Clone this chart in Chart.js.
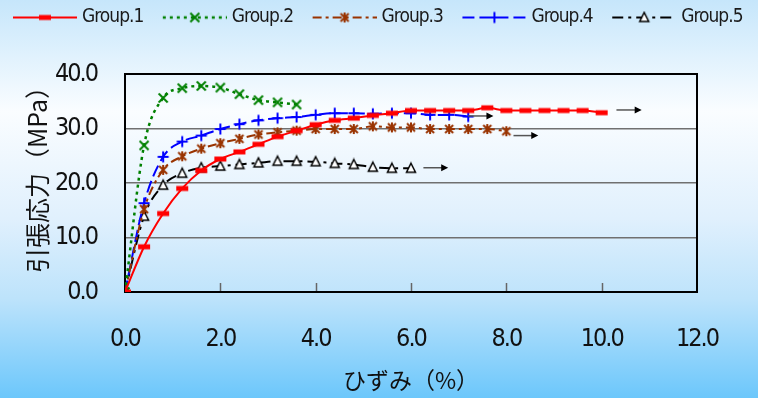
<!DOCTYPE html>
<html>
<head>
<meta charset="utf-8">
<script src="https://cdn.jsdelivr.net/npm/chart.js@4"></script>
<style>
  html, body { margin: 0; padding: 0; }
  canvas { display: block; }
</style>
</head>
<body>
<canvas id="stressChart" width="758" height="398"></canvas>
<script>
// strain (%) at each measuring step, shared by all groups
const strain = [0.0, 0.4, 0.8, 1.2, 1.6, 2.0, 2.4, 2.8, 3.2, 3.6, 4.0, 4.4, 4.8,
                5.2, 5.6, 6.0, 6.4, 6.8, 7.2, 7.6, 8.0, 8.4, 8.8, 9.2, 9.6, 10.0];

// tensile stress (MPa)
const group1 = [0, 8.3, 14.4, 19.0, 22.3, 24.4, 25.7, 27.1, 28.5, 29.6, 30.7, 31.5, 31.9,
                32.4, 32.8, 33.3, 33.3, 33.3, 33.3, 33.8, 33.3, 33.3, 33.3, 33.3, 33.3, 32.9];
const group2 = [0, 26.9, 35.6, 37.4, 37.8, 37.5, 36.3, 35.2, 34.8, 34.4];
const group3 = [0, 15.2, 22.4, 24.9, 26.3, 27.3, 28.1, 28.9, 29.3, 29.6, 29.9, 29.9, 29.9,
                30.4, 30.2, 30.2, 29.9, 29.9, 29.9, 29.9, 29.5];
const group4 = [0, 16.3, 24.8, 27.6, 28.7, 29.9, 30.8, 31.5, 31.9, 32.1, 32.5, 32.8, 32.8,
                32.7, 32.8, 32.8, 32.5, 32.5, 32.2];
const group5 = [0, 13.9, 19.6, 21.8, 22.8, 23.1, 23.4, 23.7, 24.0, 24.0, 23.9, 23.6, 23.4,
                22.9, 22.7, 22.7];

const groupNames = ['Group.1', 'Group.2', 'Group.3', 'Group.4', 'Group.5'];
const xTicks = [0, 2, 4, 6, 8, 10, 12];
const yTicks = [0, 10, 20, 30, 40];

// "continues" arrows after groups 1, 3, 4 and 5 (data units)
const arrowFrom = [10.31, 8.15, 7.20, 6.26];
const arrowTo   = [10.84, 8.67, 7.73, 6.78];
const arrowY    = [33.4, 28.7, 32.3, 22.8];

const condensed = "'DejaVu Sans Condensed', 'Liberation Sans', sans-serif";
const jp = "'Noto Sans CJK JP', sans-serif";

const styles = [
  { color: '#ff0000', dash: [],            width: 2,   marker: 'bar' },
  { color: '#008000', dash: [3, 4],        width: 2.5, marker: 'cross' },
  { color: '#993300', dash: [9, 4, 3, 4],  width: 2,   marker: 'star' },
  { color: '#0000ff', dash: [12, 5],       width: 2,   marker: 'plus' },
  { color: '#000000', dash: [11, 5, 3, 5], width: 2,   marker: 'triangle' }
];

// legend geometry
const LEG_FONT = 19;
const LEG_BOX = 76;
const LEG_PAD = 3;
const LINE_LEN = 64;
const LINE_GAP = 5;

function drawMarker(g, kind, cx, cy, color) {
  g.save();
  g.setLineDash([]);
  g.strokeStyle = color;
  g.fillStyle = color;
  g.lineWidth = 2;
  g.beginPath();
  if (kind === 'bar') {
    g.fillRect(cx - 6, cy - 2.5, 12, 5);
  } else if (kind === 'cross') {
    g.moveTo(cx - 4.5, cy - 4.5); g.lineTo(cx + 4.5, cy + 4.5);
    g.moveTo(cx + 4.5, cy - 4.5); g.lineTo(cx - 4.5, cy + 4.5);
    g.stroke();
  } else if (kind === 'star') {
    g.moveTo(cx - 4, cy - 4); g.lineTo(cx + 4, cy + 4);
    g.moveTo(cx + 4, cy - 4); g.lineTo(cx - 4, cy + 4);
    g.moveTo(cx, cy - 5); g.lineTo(cx, cy + 5);
    g.stroke();
  } else if (kind === 'plus') {
    g.moveTo(cx - 5.5, cy); g.lineTo(cx + 5.5, cy);
    g.moveTo(cx, cy - 5.5); g.lineTo(cx, cy + 5.5);
    g.stroke();
  } else if (kind === 'triangle') {
    g.lineWidth = 1.5;
    g.fillStyle = '#ffffff';
    g.moveTo(cx, cy - 5); g.lineTo(cx + 4.5, cy + 4); g.lineTo(cx - 4.5, cy + 4);
    g.closePath();
    g.fill();
    g.stroke();
  }
  g.restore();
}

function pointImage(st) {
  const c = document.createElement('canvas');
  c.width = 14; c.height = 14;
  drawMarker(c.getContext('2d'), st.marker, 7, 7, st.color);
  return c;
}

// legend sample: line + marker, ending LINE_GAP px before the label text
function legendImage(st) {
  const half = LEG_BOX / 2 + LEG_FONT / 2 - LINE_GAP;
  const c = document.createElement('canvas');
  c.width = Math.round(half * 2); c.height = 14;
  const g = c.getContext('2d');
  const end = c.width;
  const start = end - LINE_LEN;
  g.strokeStyle = st.color;
  g.lineWidth = st.width;
  g.setLineDash(st.dash);
  g.beginPath(); g.moveTo(start, 7); g.lineTo(end, 7); g.stroke();
  drawMarker(g, st.marker, start + LINE_LEN / 2, 7, st.color);
  return c;
}

const series = [group1, group2, group3, group4, group5];
const legendImages = styles.map(legendImage);

const backdrop = {
  id: 'backdrop',
  beforeDraw(chart) {
    const { ctx, width, height } = chart;
    const grad = ctx.createLinearGradient(0, 0, 0, height);
    grad.addColorStop(0, '#c6e6fb');
    grad.addColorStop(0.28, '#fafdff');
    grad.addColorStop(0.55, '#e0f0fd');
    grad.addColorStop(0.75, '#bde3fb');
    grad.addColorStop(1, '#6cc7fb');
    ctx.save();
    ctx.fillStyle = grad;
    ctx.fillRect(0, 0, width, height);
    ctx.restore();
  }
};

// keep the legend in one row, first sample starting at x=13, and the plot top at 74px
const legendFit = {
  id: 'legendFit',
  afterInit(chart) {
    const legend = chart.legend;
    const fit = legend.fit;
    const draw = legend.draw;
    legend.fit = function () {
      fit.call(this);
      this.height = 69;
      const firstX = 13 + LINE_LEN + LINE_GAP - LEG_BOX - LEG_FONT / 2;
      this.lineWidths = [LEG_PAD + 758 - 2 * firstX];
    };
    legend.draw = function () {
      this.ctx.save();
      this.ctx.letterSpacing = '-1px';
      draw.call(this);
      this.ctx.restore();
    };
  }
};

// tighter tick digits, closer to the narrow face of the original
const narrowLabels = {
  id: 'narrowLabels',
  afterLayout(chart) {
    ['x', 'y'].forEach(id => {
      const s = chart.scales[id];
      if (s._narrowed) return;
      const orig = s.drawLabels;
      s.drawLabels = function (area) {
        this.ctx.save();
        this.ctx.letterSpacing = '-2px';
        orig.call(this, area);
        this.ctx.restore();
      };
      s._narrowed = true;
    });
  }
};

const frame = {
  id: 'frame',
  beforeDatasetsDraw(chart) {
    const { ctx, chartArea: a, scales } = chart;
    ctx.save();
    ctx.strokeStyle = '#666666';
    ctx.lineWidth = 1.5;
    xTicks.slice(1, -1).forEach(v => {
      const px = Math.round(scales.x.getPixelForValue(v)) + 0.5;
      ctx.beginPath(); ctx.moveTo(px, a.bottom); ctx.lineTo(px, a.bottom - 9); ctx.stroke();
    });
    ctx.strokeStyle = '#000000';
    ctx.lineWidth = 2;
    ctx.strokeRect(a.left, a.top, a.right - a.left, a.bottom - a.top);
    ctx.restore();
  }
};

const arrows = {
  id: 'arrows',
  afterDatasetsDraw(chart) {
    const { ctx, scales: { x, y } } = chart;
    ctx.save();
    arrowFrom.forEach((from, i) => {
      const x0 = x.getPixelForValue(from);
      const x1 = x.getPixelForValue(arrowTo[i]);
      const py = y.getPixelForValue(arrowY[i]);
      ctx.strokeStyle = '#555555';
      ctx.lineWidth = 1.5;
      ctx.beginPath(); ctx.moveTo(x0, py); ctx.lineTo(x1 - 5, py); ctx.stroke();
      ctx.fillStyle = '#000000';
      ctx.beginPath();
      ctx.moveTo(x1, py); ctx.lineTo(x1 - 7, py - 3.5); ctx.lineTo(x1 - 7, py + 3.5);
      ctx.closePath(); ctx.fill();
    });
    ctx.restore();
  }
};

new Chart(document.getElementById('stressChart').getContext('2d'), {
  type: 'line',
  data: {
    datasets: series.map((vals, i) => ({
      label: groupNames[i],
      data: vals.map((v, j) => ({ x: strain[j], y: v })),
      borderColor: styles[i].color,
      backgroundColor: styles[i].color,
      borderWidth: styles[i].width,
      borderDash: styles[i].dash,
      pointStyle: pointImage(styles[i]),
      pointRadius: 5,
      cubicInterpolationMode: 'monotone',
      fill: false
    }))
  },
  options: {
    responsive: false,
    animation: false,
    layout: { padding: { top: 5, left: 0, right: 0, bottom: 0 } },
    plugins: {
      tooltip: { enabled: false },
      legend: {
        position: 'top',
        align: 'center',
        labels: {
          usePointStyle: true,
          pointStyleWidth: LEG_BOX,
          padding: LEG_PAD,
          color: '#1a1a1a',
          font: { family: condensed, size: LEG_FONT },
          generateLabels(chart) {
            const items = Chart.defaults.plugins.legend.labels.generateLabels(chart);
            items.forEach((it, i) => { it.pointStyle = legendImages[i]; });
            return items;
          }
        }
      }
    },
    scales: {
      x: {
        type: 'linear',
        min: 0,
        max: 12,
        afterBuildTicks: s => { s.ticks = xTicks.map(v => ({ value: v })); },
        afterFit: s => { s.height = 106; },
        grid: { display: false, drawTicks: false },
        border: { display: false },
        ticks: {
          padding: 32,
          color: '#111111',
          font: { family: condensed, size: 25 },
          maxRotation: 0,
          callback: v => v.toFixed(1)
        },
        title: {
          display: true,
          text: 'ひずみ（%）',
          color: '#111111',
          font: { family: jp, size: 23 },
          padding: { top: 0, bottom: 4 }
        }
      },
      y: {
        min: 0,
        max: 40,
        afterBuildTicks: s => { s.ticks = yTicks.map(v => ({ value: v })); },
        afterFit: s => { s.width = 125; },
        grid: {
          drawTicks: false,
          lineWidth: 1.5,
          color: c => (c.tick && c.tick.value > 0 && c.tick.value < 40) ? '#707070' : 'rgba(0,0,0,0)'
        },
        border: { display: false },
        ticks: {
          padding: 28,
          color: '#111111',
          font: { family: condensed, size: 25 },
          callback: v => v.toFixed(1)
        },
        title: {
          display: true,
          text: '引張応力（MPa）',
          align: 'end',
          color: '#111111',
          font: { family: jp, size: 25 },
          padding: { top: 22, bottom: 0 }
        }
      },
      yRight: {
        type: 'linear',
        position: 'right',
        afterFit: s => { s.width = 61; },
        grid: { display: false, drawTicks: false },
        border: { display: false },
        ticks: { display: false }
      }
    }
  },
  plugins: [backdrop, legendFit, narrowLabels, frame, arrows]
});
</script>
</body>
</html>
